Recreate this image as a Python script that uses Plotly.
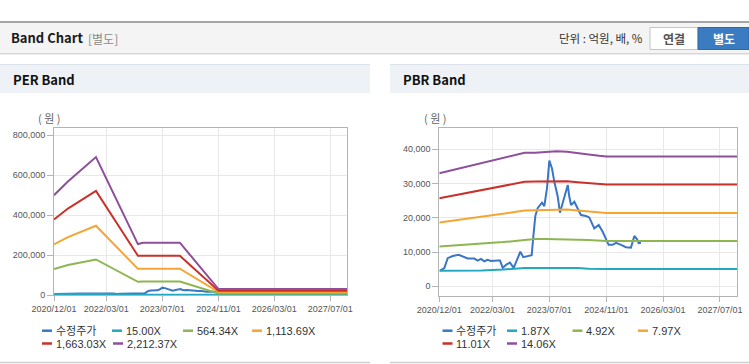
import plotly.graph_objects as go

W, H = 749, 364

# ---------------- data ----------------
price_dates = ["2020-12-07", "2021-01-13", "2021-02-11", "2021-03-26", "2021-05-16", "2021-07-03",
               "2021-08-01", "2021-09-27", "2021-10-25", "2021-11-23", "2021-12-21", "2022-01-19",
               "2022-02-16", "2022-04-15", "2022-05-05", "2022-05-28", "2022-07-01", "2022-07-29",
               "2022-08-30", "2022-09-27", "2022-10-26", "2022-11-20", "2022-12-28", "2023-01-31",
               "2023-02-14", "2023-03-03", "2023-03-23", "2023-04-29", "2023-05-19", "2023-06-11",
               "2023-07-01", "2023-07-24", "2023-08-13", "2023-09-11", "2023-09-30", "2023-10-24",
               "2023-11-15", "2023-12-06", "2023-12-19", "2024-01-03", "2024-01-31", "2024-02-29",
               "2024-03-28", "2024-05-10", "2024-06-07", "2024-07-20", "2024-08-27", "2024-09-30",
               "2024-11-20", "2024-12-24", "2025-01-22", "2025-03-06", "2025-04-17", "2025-05-30",
               "2025-06-28", "2025-07-21", "2025-08-04", "2025-08-24"]
price_values = [4600, 5300, 8200, 8850, 9200, 8650,
                8100, 8100, 7500, 8000, 7300, 7700,
                7400, 7500, 7500, 5400, 6400, 6900,
                5400, 7700, 10100, 8500, 8850, 9100,
                14500, 20500, 22800, 24400, 23400, 28600,
                36700, 34400, 30500, 26200, 21500, 24700,
                27600, 29600, 26200, 23700, 24700, 22800,
                20800, 20500, 20100, 16900, 17900, 15900,
                12100, 12100, 12700, 12100, 11400, 11300,
                14700, 13700, 12600, 12700]

per_dates = ["2020-12-01", "2021-04-01", "2021-12-01", "2022-12-01", "2023-01-15",
             "2023-12-01", "2024-11-01", "2027-12-01"]
per_15x = [3400, 3900, 4700, 1750, 1780, 1780, 200, 200]
per_564x = [130000, 150000, 178000, 66000, 67000, 67000, 7300, 7300]
per_1113x = [253000, 290000, 347000, 131000, 132000, 132000, 14500, 14500]
per_1663x = [378000, 433000, 521000, 197000, 197000, 197000, 21700, 21700]
per_2212x = [500000, 568000, 691000, 255000, 262000, 262000, 29500, 29500]

pbr_dates = ["2020-12-01", "2021-06-01", "2021-12-01", "2022-06-01", "2022-12-01", "2023-03-01",
             "2023-06-01", "2023-09-01", "2023-12-01", "2024-03-01", "2024-06-01", "2024-09-01",
             "2024-11-01", "2027-12-01"]
pbr_187x = [4500, 4550, 4600, 4900, 5350, 5350, 5350, 5350, 5350, 5350, 5100, 5050, 5050, 5050]
pbr_492x = [11600, 12000, 12400, 12900, 13500, 13800, 13800, 13800, 13800, 13600, 13500, 13300, 13200, 13200]
pbr_797x = [18600, 19500, 20400, 21200, 22100, 22200, 22300, 22500, 22400, 22100, 21800, 21600, 21400, 21400]
pbr_1101x = [25700, 26900, 28100, 29300, 30500, 30600, 30700, 30800, 30700, 30400, 30100, 29900, 29700, 29700]
pbr_1406x = [33000, 34500, 36000, 37500, 39000, 39000, 39200, 39400, 39300, 39000, 38500, 38100, 37900, 37900]

per_names = ["수정주가", "15.00X", "564.34X", "1,113.69X", "1,663.03X", "2,212.37X"]
pbr_names = ["수정주가", "1.87X", "4.92X", "7.97X", "11.01X", "14.06X"]

x_tickvals = ["2020-12-01", "2022-03-01", "2023-07-01", "2024-11-01", "2026-03-01", "2027-07-01"]
x_ticktext = ["2020/12/01", "2022/03/01", "2023/07/01", "2024/11/01", "2026/03/01", "2027/07/01"]
per_ytick = [0, 200000, 400000, 600000, 800000]
pbr_ytick = [0, 10000, 20000, 30000, 40000]

colors = ["#3a76c6", "#22a9c1", "#8db651", "#f5a534", "#c8322b", "#8e4f9b"]

# ---------------- helpers ----------------
def px(x):
    return x / W

def py(y):
    return 1 - y / H

FONT = "Liberation Sans, Noto Sans CJK KR, sans-serif"
KFONT = "Noto Sans CJK KR, Liberation Sans, sans-serif"

fig = go.Figure()

per_series = [(price_dates, price_values), (per_dates, per_15x), (per_dates, per_564x),
              (per_dates, per_1113x), (per_dates, per_1663x), (per_dates, per_2212x)]
pbr_series = [(price_dates, price_values), (pbr_dates, pbr_187x), (pbr_dates, pbr_492x),
              (pbr_dates, pbr_797x), (pbr_dates, pbr_1101x), (pbr_dates, pbr_1406x)]

for (d, v), name, c in zip(per_series, per_names, colors):
    fig.add_trace(go.Scatter(x=d, y=v, name=name, mode="lines", line=dict(color=c, width=2),
                             xaxis="x", yaxis="y", showlegend=False))
for (d, v), name, c in zip(pbr_series, pbr_names, colors):
    fig.add_trace(go.Scatter(x=d, y=v, name=name, mode="lines", line=dict(color=c, width=2),
                             xaxis="x2", yaxis="y2", showlegend=False))

axis_common = dict(showline=True, mirror=True, linecolor="#b4b4b4", linewidth=1,
                   showgrid=True, gridcolor="#e8e8e8", gridwidth=1, zeroline=False,
                   automargin=False,
                   ticks="outside", tickcolor="#b4b4b4", tickfont=dict(family=FONT, size=9, color="#555"))

x_range = ["2020-12-01", "2027-11-24"]

fig.update_layout(
    template="none",
    width=W, height=H, margin=dict(l=0, r=0, t=0, b=0, pad=0, autoexpand=False),
    paper_bgcolor="white", plot_bgcolor="rgba(0,0,0,0)",
    font=dict(family=FONT),
    showlegend=False,
    xaxis=dict(axis_common, type="date", range=x_range, domain=[px(54), px(347)],
               tickvals=x_tickvals, ticktext=x_ticktext, ticklen=5, anchor="y"),
    yaxis=dict(axis_common, range=[0, 835000], domain=[py(295), py(128.3)],
               tickvals=per_ytick, tickformat=",", ticklen=6, anchor="x"),
    xaxis2=dict(axis_common, type="date", range=x_range, domain=[px(439.3), px(737)],
                tickvals=x_tickvals, ticktext=x_ticktext, ticklen=5, anchor="y2"),
    yaxis2=dict(axis_common, range=[-2750, 46130], domain=[py(295.7), py(128.3)],
                tickvals=pbr_ytick, tickformat=",", ticklen=6, anchor="x2"),
)

shapes = []
annotations = []

def rect(x0, y0, x1, y1, fill, line=None, layer="below"):
    shapes.append(dict(type="rect", xref="paper", yref="paper", x0=px(x0), x1=px(x1),
                       y0=py(y1), y1=py(y0), fillcolor=fill, layer=layer,
                       line=dict(color=line if line else fill, width=1 if line else 0)))

def hline(x0, x1, y, color, width=1, layer="below"):
    shapes.append(dict(type="line", xref="paper", yref="paper", x0=px(x0), x1=px(x1),
                       y0=py(y), y1=py(y), line=dict(color=color, width=width), layer=layer))

def text(x, y, s, size, color, anchor="left", bold=False, family=KFONT):
    if bold:
        s = "<b>" + s + "</b>"
    annotations.append(dict(x=px(x), y=py(y), xref="paper", yref="paper", text=s, showarrow=False,
                            xanchor=anchor, yanchor="middle", borderpad=0,
                            font=dict(family=family, size=size, color=color)))

# top header
hline(0, W, 22, "#a6a6a6", 2)
rect(0, 23, W, 53, "#f4f4f4")
hline(0, W, 53.5, "#d6d6d6", 1)
hline(0, W, 54.5, "#ececec", 1)
text(10, 38, "Band Chart", 13, "#1a1a1a", bold=True)
text(87, 38.5, "[별도]", 12, "#8a8a8a")
text(644, 38.5, "단위 : 억원, 배, %", 11.5, "#333", anchor="right")
rect(650, 27.5, 698, 49.5, "#ffffff", line="#c4c4c4")
rect(698, 27.5, 749, 49.5, "#3a7bc2", line="#2f6aa8")
text(674, 38.5, "연결", 12, "#555", anchor="center", bold=True)
text(723.5, 38.5, "별도", 12, "#ffffff", anchor="center", bold=True)

# panels
for (x0, x1, title, unit_x) in [(0, 370, "PER Band", 49), (390, 749, "PBR Band", 435)]:
    rect(x0, 64, x1, 93, "#eef2f7")
    hline(x0, x1, 64.5, "#dde3ea", 1)
    hline(x0, x1, 362.5, "#cfcfcf", 1.5)
    text(x0 + 12, 79.5, title, 13, "#111", bold=True)
    text(unit_x, 118, "( 원 )", 11, "#666", anchor="center")

# legends
def legend(names, cols_row1, cols_row2, y1, y2):
    pos = [(cols_row1[i], y1) for i in range(len(cols_row1))] + [(cols_row2[i], y2) for i in range(len(cols_row2))]
    for (lx, ly), name, c in zip(pos, names, colors):
        hline(lx, lx + 10, ly, c, 2.5, layer="above")
        text(lx + 12.5, ly, name, 11, "#333", family=FONT)

legend(per_names, [42, 112, 183, 252], [42, 113], 330.7, 343.5)
legend(pbr_names, [442.5, 507, 572.5, 638], [442.5, 507], 330.7, 343.5)

fig.update_layout(shapes=shapes, annotations=annotations)
fig.write_html("out.html", config={"displayModeBar": False},
               post_script="document.body.style.margin='0px';document.body.style.overflow='hidden';")
